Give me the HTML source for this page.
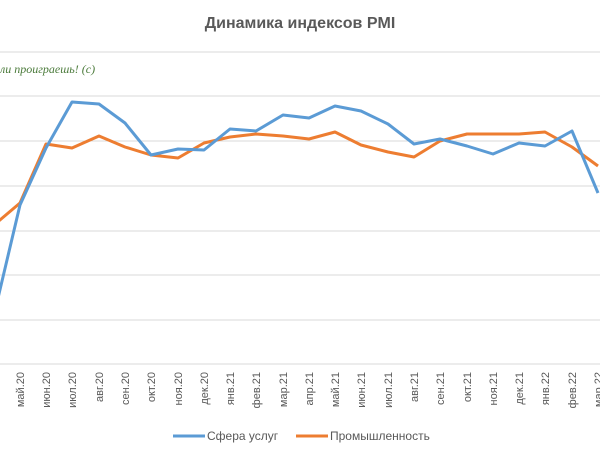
<!DOCTYPE html>
<html><head><meta charset="utf-8"><style>body{margin:0;background:#fff}svg{display:block}</style></head><body>
<svg width="600" height="450" xmlns="http://www.w3.org/2000/svg" font-family="Liberation Sans, sans-serif">
<rect width="600" height="450" fill="#fff"/>
<text x="300" y="28" text-anchor="middle" font-size="16" font-weight="bold" fill="#595959">Динамика индексов PMI</text>
<g stroke="#d9d9d9" stroke-width="1">
<line x1="0" x2="600" y1="52" y2="52"/><line x1="0" x2="600" y1="96" y2="96"/><line x1="0" x2="600" y1="141" y2="141"/><line x1="0" x2="600" y1="186" y2="186"/><line x1="0" x2="600" y1="231" y2="231"/><line x1="0" x2="600" y1="275" y2="275"/><line x1="0" x2="600" y1="320" y2="320"/><line x1="0" x2="600" y1="364" y2="364"/>
</g>
<text x="0" y="73" font-size="12" font-style="italic" fill="#4a7a3a" font-family="Liberation Serif, serif">ли проиграешь! (с)</text>
<polyline fill="none" stroke="#ed7d31" stroke-width="3" stroke-linejoin="round" points="-6,225 20,203 46,144 72,148 99,136 125,147 151,155 178,158 204,143 230,137 256,134 283,136 309,139 335,132 361,145 388,152 414,157 440,141 467,134 493,134 519,134 545,132 572,147 598,166"/>
<polyline fill="none" stroke="#5b9bd5" stroke-width="3" stroke-linejoin="round" points="-6,315 20,205 46,148 72,102 99,104 125,123 151,155 178,149 204,150 230,129 256,131 283,115 309,118 335,106 361,111 388,124 414,144 440,139 467,146 493,154 519,143 545,146 572,131 598,193"/>
<g font-size="11" fill="#595959" text-anchor="end">
<text transform="translate(24,372) rotate(-90)">май.20</text><text transform="translate(50,372) rotate(-90)">июн.20</text><text transform="translate(76,372) rotate(-90)">июл.20</text><text transform="translate(103,372) rotate(-90)">авг.20</text><text transform="translate(129,372) rotate(-90)">сен.20</text><text transform="translate(155,372) rotate(-90)">окт.20</text><text transform="translate(182,372) rotate(-90)">ноя.20</text><text transform="translate(208,372) rotate(-90)">дек.20</text><text transform="translate(234,372) rotate(-90)">янв.21</text><text transform="translate(260,372) rotate(-90)">фев.21</text><text transform="translate(287,372) rotate(-90)">мар.21</text><text transform="translate(313,372) rotate(-90)">апр.21</text><text transform="translate(339,372) rotate(-90)">май.21</text><text transform="translate(365,372) rotate(-90)">июн.21</text><text transform="translate(392,372) rotate(-90)">июл.21</text><text transform="translate(418,372) rotate(-90)">авг.21</text><text transform="translate(444,372) rotate(-90)">сен.21</text><text transform="translate(471,372) rotate(-90)">окт.21</text><text transform="translate(497,372) rotate(-90)">ноя.21</text><text transform="translate(523,372) rotate(-90)">дек.21</text><text transform="translate(549,372) rotate(-90)">янв.22</text><text transform="translate(576,372) rotate(-90)">фев.22</text><text transform="translate(602,372) rotate(-90)">мар.22</text>
</g>
<line x1="173" x2="205" y1="436" y2="436" stroke="#5b9bd5" stroke-width="3"/>
<text x="207" y="440" font-size="12" fill="#595959">Сфера услуг</text>
<line x1="296" x2="328" y1="436" y2="436" stroke="#ed7d31" stroke-width="3"/>
<text x="330" y="440" font-size="12" fill="#595959">Промышленность</text>
</svg>
</body></html>
